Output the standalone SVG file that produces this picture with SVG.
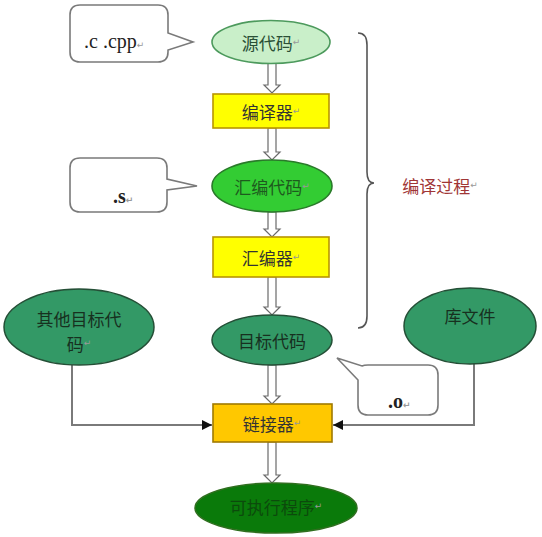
<svg xmlns="http://www.w3.org/2000/svg" width="542" height="537" viewBox="0 0 542 537">
<defs>
<marker id="ah" viewBox="0 0 10 10" refX="10" refY="5" markerWidth="10" markerHeight="10" markerUnits="userSpaceOnUse" orient="auto">
<path d="M0,0 L10,5 L0,10 z" fill="#111"/>
</marker>
</defs>
<style>
.cjk{font-family:"Noto Sans CJK SC","Noto Sans",sans-serif;font-size:17px;text-anchor:middle;dominant-baseline:central}
.ser{font-family:"Liberation Serif","DejaVu Serif",serif;font-size:20px}
.pm{font-family:"DejaVu Sans",sans-serif;font-size:9px;fill:#999}
.bub{fill:#fff;stroke:#7a7a7a;stroke-width:1.6}
.ha{fill:#fff;stroke:#6a6a6a;stroke-width:1.2}
.ln{fill:none;stroke:#7a7a7a;stroke-width:2}
.dg{fill:#339966;stroke:#244f36;stroke-width:1.5}
</style>
<rect width="542" height="537" fill="#fff"/>
<g id="connectors">
<path class="ha" d="M268,63 V85 H264 L272,93 L280,85 H276 V63 z"/>
<path class="ha" d="M268,128 V152 H264 L272,160 L280,152 H276 V128 z"/>
<path class="ha" d="M268,212 V229 H264 L272,237 L280,229 H276 V212 z"/>
<path class="ha" d="M268,277 V307 H264 L272,315 L280,307 H276 V277 z"/>
<path class="ha" d="M268,365 V396 H264 L272,404 L280,396 H276 V365 z"/>
<path class="ha" d="M268,442 V475 H264 L272,483 L280,475 H276 V442 z"/>
<path class="ln" d="M72,365 V425 H212" marker-end="url(#ah)"/>
<path class="ln" d="M474,363 V425 H333" marker-end="url(#ah)"/>
</g>
<g id="brace">
<path d="M358,33 Q367,33 367,45 L367,172 Q367,183 374,183 Q367,183 367,194 L367,316 Q367,328 358,328" fill="none" stroke="#555" stroke-width="1.6"/>
<text x="440" y="185" class="cjk" fill="#a03535">编译过程<tspan class="pm">↵</tspan></text>
</g>
<g id="bubble-c">
<path class="bub" d="M80,5 H158 Q168,5 168,15 V33 L193,42 L168,50 V52 Q168,62 158,62 H80 Q70,62 70,52 V15 Q70,5 80,5 z"/>
<text x="84" y="48" class="ser" fill="#222">.c .cpp<tspan class="pm">↵</tspan></text>
</g>
<g id="n-source">
<ellipse cx="271" cy="42" rx="59" ry="21.5" fill="#c9efc9" stroke="#4d9a5d" stroke-width="1.6"/>
<text x="271" y="42" class="cjk" fill="#2a4f36">源代码<tspan class="pm">↵</tspan></text>
</g>
<g id="n-compiler">
<rect x="213" y="94" width="116" height="34" fill="#ffff00" stroke="#b89500" stroke-width="1.6"/>
<text x="271" y="111" class="cjk" fill="#333">编译器<tspan class="pm">↵</tspan></text>
</g>
<g id="bubble-s">
<path class="bub" d="M80,158 H157 Q167,158 167,168 V179 L197,186 L167,190 V202 Q167,212 157,212 H80 Q70,212 70,202 V168 Q70,158 80,158 z"/>
<text x="113" y="203" class="ser" font-weight="bold" fill="#222">.s<tspan class="pm">↵</tspan></text>
</g>
<g id="n-asm">
<ellipse cx="272" cy="186" rx="60" ry="26" fill="#33cc33" stroke="#2a7a2a" stroke-width="1.6"/>
<text x="272" y="186" class="cjk" fill="#1e5a1e">汇编代码<tspan class="pm">↵</tspan></text>
</g>
<g id="n-assembler">
<rect x="213" y="237" width="116" height="40" fill="#ffff00" stroke="#b89500" stroke-width="1.6"/>
<text x="271" y="257" class="cjk" fill="#333">汇编器<tspan class="pm">↵</tspan></text>
</g>
<g id="n-obj">
<ellipse cx="272" cy="340" rx="60" ry="25" class="dg"/>
<text x="272" y="340" class="cjk" fill="#17301f">目标代码</text>
</g>
<g id="n-other">
<ellipse cx="79" cy="327" rx="75" ry="38" class="dg"/>
<text x="79" y="318" class="cjk" fill="#17301f">其他目标代</text>
<text x="79" y="343" class="cjk" fill="#17301f">码<tspan class="pm">↵</tspan></text>
</g>
<g id="n-lib">
<ellipse cx="470" cy="326" rx="66" ry="38" class="dg"/>
<text x="470" y="315" class="cjk" fill="#17301f">库文件</text>
</g>
<g id="bubble-o">
<path class="bub" d="M337,358 L362,366 Q364,365 368,365 H428 Q438,365 438,375 V405 Q438,415 428,415 H368 Q358,415 358,405 V380 z"/>
<text x="388" y="408" class="ser" font-weight="bold" fill="#222">.o<tspan class="pm">↵</tspan></text>
</g>
<g id="n-linker">
<rect x="213" y="404" width="119" height="38" fill="#ffc800" stroke="#a07a00" stroke-width="1.6"/>
<text x="272" y="423" class="cjk" fill="#333">链接器<tspan class="pm">↵</tspan></text>
</g>
<g id="n-exe">
<ellipse cx="276" cy="508" rx="81" ry="25" fill="#0a7a0a" stroke="#2f6f1f" stroke-width="1.5"/>
<text x="276" y="506" class="cjk" fill="#0c4a0c">可执行程序<tspan class="pm">↵</tspan></text>
</g>
</svg>
